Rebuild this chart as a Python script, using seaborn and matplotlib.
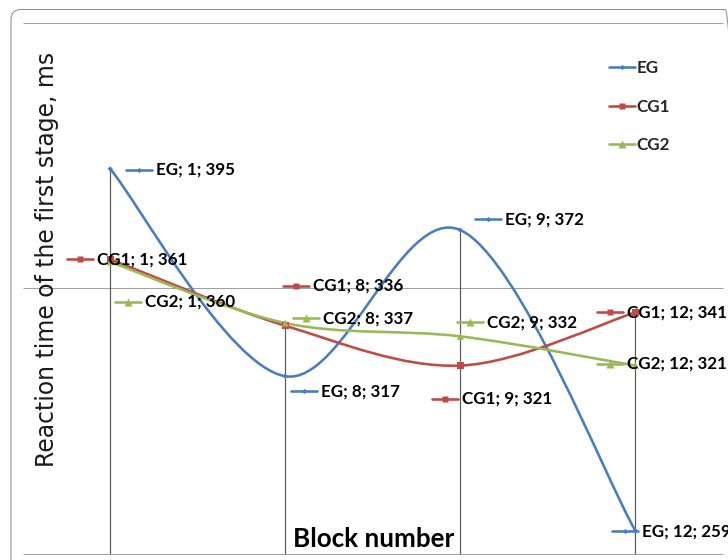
import matplotlib
matplotlib.use("Agg")
import matplotlib.pyplot as plt
import matplotlib.transforms as mtransforms
from matplotlib.path import Path
from matplotlib.patches import PathPatch, FancyBboxPatch
from matplotlib.lines import Line2D
import numpy as np
import pandas as pd
import seaborn as sns

# ---- data -------------------------------------------------------------
blocks = ["1", "8", "9", "12"]
eg = [395, 317, 372, 259]
cg1 = [361, 336, 321, 341]
cg2 = [360, 337, 332, 321]
groups = ["EG", "CG1", "CG2"]

y_min, y_max, y_step = 250, 450, 100

colors = {"EG": "#4A7EBB", "CG1": "#BE4B48", "CG2": "#98B954"}
markers = {"EG": "D", "CG1": "s", "CG2": "^"}
marker_area = {"EG": 14, "CG1": 45, "CG2": 50}

# data-label key offsets (pixels, x right / y down) from each point
label_offsets = {
    "EG": [(16, 1), (6, 15), (15, -11), (-23, 1)],
    "CG1": [(-43, 0), (-2, -40), (-28, 33), (-38, 0)],
    "CG2": [(5, 40), (8, -5), (-3, -14), (-38, -2)],
}

series = {"EG": eg, "CG1": cg1, "CG2": cg2}
df = pd.DataFrame(
    [(g, i, b, v) for g in groups for i, (b, v) in enumerate(zip(blocks, series[g]))],
    columns=["group", "pos", "block", "value"],
)

# ---- figure -----------------------------------------------------------
sns.set_theme(style="white")
plt.rcParams["font.family"] = ["Lato", "DejaVu Sans"]

W, H, DPI = 728, 560, 72
LW = 2.6
fig = plt.figure(figsize=(W / DPI, H / DPI), dpi=DPI)
left, top, right, bottom = 22.7, 22.7, 722.7, 554.3
ax = fig.add_axes([left / W, 1 - bottom / H, (right - left) / W, (bottom - top) / H])
ax.set_xlim(-0.5, len(blocks) - 0.5)
ax.set_ylim(y_min, y_max)
ax.set_xticks(range(len(blocks)))
ax.set_xticklabels([])
ax.set_yticks([])
ax.tick_params(length=0)
for s in ax.spines.values():
    s.set_visible(False)
ax.patch.set_alpha(0)

# outer rounded chart frame
frame = FancyBboxPatch((11, -30), 724, 560 - 9.5 + 30,
                       boxstyle="round,pad=0,rounding_size=10",
                       transform=mtransforms.IdentityTransform(),
                       fc="none", ec="#8C8C8C", lw=1.0, zorder=0)
fig.patches.append(frame)

# horizontal gridlines
ax.hlines(np.arange(y_min, y_max + 1, y_step), -0.5, len(blocks) - 0.5,
          color="#A0A0A0", lw=1.0, clip_on=False, zorder=1)

# drop lines from the highest point down to the axis
tops = [max(series[g][i] for g in groups) for i in range(len(blocks))]
ax.vlines(range(len(blocks)), y_min, tops, color="#595959", lw=1.2, zorder=1)


def smooth_path(xs, ys):
    """Cubic Bezier through the points, Catmull-Rom style control points."""
    pts = np.column_stack([xs, ys]).astype(float)
    n = len(pts)
    verts = [pts[0]]
    codes = [Path.MOVETO]
    for i in range(n - 1):
        p0 = pts[i - 1] if i > 0 else pts[i]
        p1, p2 = pts[i], pts[i + 1]
        p3 = pts[i + 2] if i + 2 < n else pts[i + 1]
        c1 = p1 + (p2 - p0) / 6.0
        c2 = p2 - (p3 - p1) / 6.0
        verts += [c1, c2, p2]
        codes += [Path.CURVE4] * 3
    return Path(verts, codes)


for g in groups:
    ax.add_patch(PathPatch(smooth_path(range(len(blocks)), series[g]),
                           fc="none", ec=colors[g], lw=LW, zorder=2,
                           capstyle="round", joinstyle="round"))

sns.scatterplot(data=df, x="pos", y="value", hue="group", style="group",
                size="group", sizes=marker_area, markers=markers,
                palette=colors, edgecolor="none", linewidth=0,
                legend=False, ax=ax, zorder=3)
ax.set_xlabel("")
ax.set_ylabel("")
ax.set_xlim(-0.5, len(blocks) - 0.5)
ax.set_ylim(y_min, y_max)

# data labels with a small series key in front of each
label_font = dict(family=["Lato", "DejaVu Sans"], weight="bold", size=17)
key_len, text_gap = 26, 30
ident = mtransforms.IdentityTransform()
for g in groups:
    for i, (b, v) in enumerate(zip(blocks, series[g])):
        px, py = ax.transData.transform((i, v))
        dx, dy = label_offsets[g][i]
        kx, ky = px + dx, py - dy
        ax.add_line(Line2D([kx, kx + key_len], [ky, ky], transform=ident,
                           color=colors[g], lw=LW, clip_on=False, zorder=4))
        ax.add_line(Line2D([kx + key_len / 2], [ky], transform=ident,
                           marker=markers[g], ms=np.sqrt(marker_area[g]),
                           mfc=colors[g], mec="none", ls="none",
                           clip_on=False, zorder=4))
        ax.text(kx + text_gap, ky, f"{g}; {b}; {v}", transform=ident,
                ha="left", va="center", color="black", zorder=5, **label_font)

# legend
handles = [Line2D([], [], color=colors[g], lw=LW, marker=markers[g],
                  ms=np.sqrt(marker_area[g]), mec="none") for g in groups]
ax.legend(handles, groups, loc="upper left",
          bbox_to_anchor=((609 - left) / (right - left), 1 - (60 - top) / (bottom - top)),
          frameon=False, prop=dict(family=["Lato", "DejaVu Sans"], weight="bold", size=17),
          handlelength=26 / 17, handletextpad=0.1, labelspacing=1.33,
          borderpad=0, borderaxespad=0)

# axis titles
ax.text((374 - left) / (right - left), 1 - (539 - top) / (bottom - top), "Block number",
        transform=ax.transAxes, ha="center", va="center",
        fontsize=26, fontweight="bold", color="black", zorder=5)
ax.text((47 - left) / (right - left), 1 - (259 - top) / (bottom - top),
        "Reaction time of the first stage, ms", transform=ax.transAxes,
        rotation=90, ha="center", va="center", fontsize=23.5,
        family=["DejaVu Sans"], color="#1a1a1a", zorder=5)

fig.savefig("out.png", dpi=DPI)
